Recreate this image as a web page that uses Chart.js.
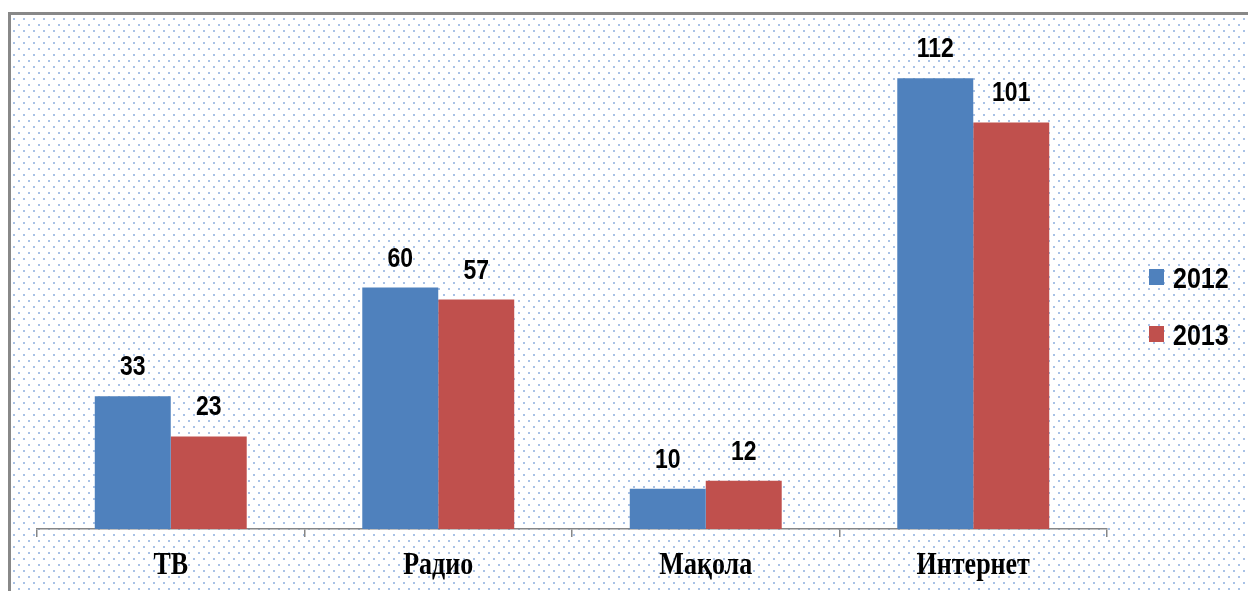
<!DOCTYPE html>
<html>
<head>
<meta charset="utf-8">
<script src="https://cdn.jsdelivr.net/npm/chart.js@4/dist/chart.umd.min.js"></script>
<style>
  html, body { margin: 0; padding: 0; background: #ffffff; }
  #wrap { width: 1248px; height: 591px; }
</style>
</head>
<body>
<div id="wrap"><canvas id="c" width="1248" height="591"></canvas></div>
<script>
const categories = ['ТВ', 'Радио', 'Мақола', 'Интернет'];
const seriesLabels = ['2012', '2013'];
const values2012 = [33, 60, 10, 112];
const values2013 = [23, 57, 12, 101];
const seriesColors = ['#4F81BD', '#C0504D'];
const yMin = 0;
const yMax = 120;

const backgroundPlugin = {
  id: 'bg',
  beforeDraw(chart) {
    const ctx = chart.ctx;
    const W = chart.width, H = chart.height;
    ctx.save();
    ctx.fillStyle = '#ffffff';
    ctx.fillRect(0, 0, W, H);
    // dotted fill
    ctx.fillStyle = '#a9c2e6';
    let row = 0;
    for (let y = 18; y < H; y += 6, row++) {
      const off = (row % 2) ? 5 : 0;
      for (let x = 13 + off; x < W; x += 10) {
        ctx.fillRect(x, y, 2, 2);
      }
    }
    // frame
    ctx.fillStyle = '#888888';
    ctx.fillRect(8, 12, W - 8, 3);
    ctx.fillRect(8, 12, 3, H - 12);
    ctx.restore();
  }
};

function stretchedText(ctx, text, x, y, font, align) {
  ctx.save();
  ctx.font = font;
  ctx.textAlign = align;
  ctx.textBaseline = 'alphabetic';
  ctx.fillStyle = '#000000';
  ctx.translate(x, y);
  ctx.scale(1, 1.2);
  ctx.fillText(text, 0, 0);
  ctx.restore();
}

const labelPlugin = {
  id: 'labels',
  afterDatasetsDraw(chart) {
    const ctx = chart.ctx;
    chart.data.datasets.forEach((ds, di) => {
      const meta = chart.getDatasetMeta(di);
      meta.data.forEach((el, i) => {
        stretchedText(ctx, String(ds.data[i]), el.x, el.y - 21,
          'bold 23px "Liberation Sans", Arial, sans-serif', 'center');
      });
    });
  },
  afterDraw(chart) {
    const ctx = chart.ctx;
    const xs = chart.scales.x;
    categories.forEach((c, i) => {
      stretchedText(ctx, c, xs.getPixelForTick(i), 574,
        'bold 26px "Liberation Serif", "Times New Roman", serif', 'center');
    });
    // legend
    chart.data.datasets.forEach((ds, di) => {
      const base = 288 + di * 57;
      ctx.save();
      ctx.fillStyle = ds.backgroundColor;
      ctx.fillRect(1149, base - 19, 15, 16);
      ctx.restore();
      stretchedText(ctx, ds.label, 1173, base,
        'bold 25px "Liberation Sans", Arial, sans-serif', 'left');
    });
  }
};

new Chart(document.getElementById('c'), {
  type: 'bar',
  data: {
    labels: categories,
    datasets: [
      { label: seriesLabels[0], data: values2012, backgroundColor: seriesColors[0],
        barPercentage: 1.0, categoryPercentage: 0.568 },
      { label: seriesLabels[1], data: values2013, backgroundColor: seriesColors[1],
        barPercentage: 1.0, categoryPercentage: 0.568 }
    ]
  },
  options: {
    responsive: false,
    animation: false,
    layout: { padding: { left: 37, right: 141, top: 46, bottom: 0 } },
    plugins: { legend: { display: false }, tooltip: { enabled: false }, title: { display: false } },
    scales: {
      x: {
        grid: { display: true, drawOnChartArea: false, drawTicks: true, tickLength: 8, color: '#868686', lineWidth: 1.5 },
        border: { display: true, color: '#868686', width: 1.5 },
        ticks: { display: false },
        afterFit(scale) { scale.height = 62; }
      },
      y: {
        display: false,
        min: yMin,
        max: yMax
      }
    }
  },
  plugins: [backgroundPlugin, labelPlugin]
});
</script>
</body>
</html>
